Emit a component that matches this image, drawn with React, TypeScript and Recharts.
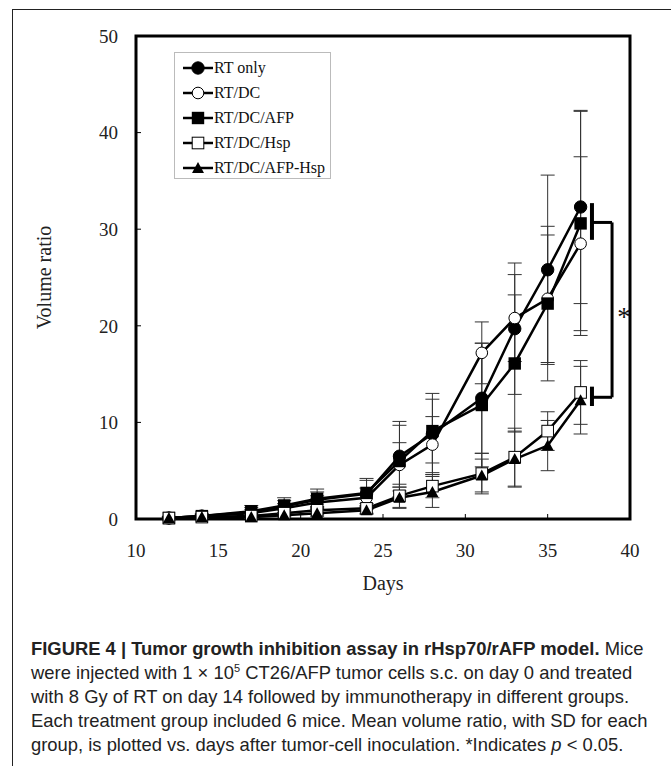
import React from "react"
import {
    LineChart, Line, XAxis, YAxis, ErrorBar, ReferenceArea,
    ReferenceLine, ReferenceDot
} from "recharts"

const days = [12, 14, 17, 19, 21, 24, 26, 28, 31, 33, 35, 37]

const rtOnly = [0.1, 0.3, 0.7, 1.3, 2.0, 2.6, 6.5, 8.8, 12.5, 19.7, 25.8, 32.3]
const rtOnlySd = [0.1, 0.2, 0.5, 0.6, 0.8, 1.6, 3.6, 4.2, 5.7, 6.8, 9.8, 10.0]
const rtDc = [0.1, 0.3, 0.6, 1.1, 1.7, 2.2, 5.6, 7.7, 17.2, 20.8, 22.8, 28.5]
const rtDcSd = [0.1, 0.2, 0.4, 0.5, 0.7, 1.0, 2.3, 2.9, 3.2, 4.5, 6.6, 9.0]
const rtDcAfp = [0.1, 0.3, 0.8, 1.4, 2.1, 2.7, 6.0, 9.1, 11.8, 16.1, 22.3, 30.6]
const rtDcAfpSd = [0.1, 0.2, 0.6, 0.8, 1.0, 1.3, 3.7, 3.3, 6.4, 7.1, 8.0, 11.6]
const rtDcHsp = [0.1, 0.2, 0.3, 0.6, 0.9, 1.1, 2.4, 3.4, 4.7, 6.4, 9.1, 13.1]
const rtDcHspSd = [0.1, 0.1, 0.2, 0.3, 0.4, 0.5, 1.2, 1.2, 2.1, 3.0, 2.0, 3.3]
const rtDcAfpHsp = [0.1, 0.2, 0.2, 0.4, 0.6, 0.9, 2.2, 2.8, 4.5, 6.2, 7.6, 12.3]
const rtDcAfpHspSd = [0.1, 0.1, 0.1, 0.2, 0.3, 0.4, 1.1, 1.6, 1.7, 2.9, 2.6, 3.5]

const xTicks = [10, 15, 20, 25, 30, 35, 40]
const yTicks = [0, 10, 20, 30, 40, 50]

const seriesNames = ["RT only", "RT/DC", "RT/DC/AFP", "RT/DC/Hsp", "RT/DC/AFP-Hsp"]
const seriesMarkers = ["circle", "openCircle", "square", "openSquare", "triangle"]

const data = days.map((d, i) => ({
    day: d,
    s0: rtOnly[i], e0: rtOnlySd[i],
    s1: rtDc[i], e1: rtDcSd[i],
    s2: rtDcAfp[i], e2: rtDcAfpSd[i],
    s3: rtDcHsp[i], e3: rtDcHspSd[i],
    s4: rtDcAfpHsp[i], e4: rtDcAfpHspSd[i],
}))

const SERIF = '"Liberation Serif", "DejaVu Serif", serif'

function Marker({ kind, cx, cy }: { kind: string; cx: number; cy: number }) {
    if (cx == null || cy == null) return null
    switch (kind) {
        case "circle":
            return <circle cx={cx} cy={cy} r={6.2} fill="#000" stroke="#000" />
        case "openCircle":
            return <circle cx={cx} cy={cy} r={5.8} fill="#fff" stroke="#000" strokeWidth={1} />
        case "square":
            return <rect x={cx - 6.2} y={cy - 6.2} width={12.4} height={12.4} fill="#000" />
        case "openSquare":
            return <rect x={cx - 5.8} y={cy - 5.8} width={11.6} height={11.6} fill="#fff" stroke="#000" strokeWidth={1} />
        default:
            return <polygon points={`${cx},${cy - 6} ${cx + 6},${cy + 5} ${cx - 6},${cy + 5}`} fill="#000" />
    }
}

// legend drawn as an overlay so it doesn't steal plot space
function LegendBox() {
    return (
        <div style={{
            position: "absolute", left: 174, top: 52, width: 157, height: 127, boxSizing: "border-box",
            border: "1px solid #bbb", background: "#fff", padding: "2px 0 0 8px",
            fontFamily: SERIF, fontSize: 16, color: "#111", whiteSpace: "nowrap",
        }}>
            {seriesNames.map((n, i) => (
                <div key={n} style={{ display: "flex", alignItems: "center", height: 25 }}>
                    <svg width={30} height={14} style={{ marginRight: 1 }}>
                        <line x1={0} y1={7} x2={30} y2={7} stroke="#000" strokeWidth={2.5} />
                        <Marker kind={seriesMarkers[i]} cx={15} cy={7} />
                    </svg>
                    <span>{n}</span>
                </div>
            ))}
        </div>
    )
}

const tickStyle = { fill: "#222", fontSize: 19, fontFamily: SERIF }

export default function App() {
    return (
        <div style={{ position: "relative", width: 671, height: 766, overflow: "hidden", background: "#fff" }}>
            <style>{`body{margin:0}`}</style>
            <div style={{
                position: "absolute", left: 12, top: 9, width: 720, height: 800,
                borderLeft: "1.5px solid #222", borderTop: "1.5px solid #222",
            }} />
            <div style={{ position: "absolute", left: 0, top: 0 }}>
                <LineChart width={671} height={600} data={data}
                    margin={{ top: 36, right: 41, left: 36, bottom: 6 }}>
                    <XAxis
                        dataKey="day" type="number" domain={[10, 40]} ticks={xTicks}
                        axisLine={false} tickLine={{ stroke: "#000" }} tickSize={-5} tickMargin={30}
                        tick={tickStyle} height={75} allowDataOverflow
                        label={{ value: "Days", position: "insideBottom", offset: 4, style: { fontFamily: SERIF, fontSize: 20, fill: "#222" } }}
                    />
                    <YAxis
                        type="number" domain={[0, 50]} ticks={yTicks}
                        axisLine={false} tickLine={{ stroke: "#000" }} tickSize={-5} tickMargin={23}
                        tick={tickStyle} width={100}
                        label={{ value: "Volume ratio", angle: -90, position: "insideLeft", offset: 8, style: { fontFamily: SERIF, fontSize: 20, fill: "#222", textAnchor: "middle" } }}
                    />
                    <ReferenceArea x1={10} x2={40} y1={0} y2={50} fill="none" stroke="#000" strokeWidth={3} />
                    {seriesNames.map((n, i) => (
                        <Line
                            key={n} name={n} dataKey={`s${i}`} type="linear"
                            stroke="#000" strokeWidth={2.5} isAnimationActive={false}
                            dot={(p: any) => <Marker key={`${i}-${p.index}`} kind={seriesMarkers[i]} cx={p.cx} cy={p.cy} />}
                            activeDot={false}
                        >
                            <ErrorBar dataKey={`e${i}`} direction="y" width={7} stroke="#333" strokeWidth={1} isAnimationActive={false} />
                        </Line>
                    ))}
                    <ReferenceLine segment={[{ x: 37.69, y: 32.7 }, { x: 37.69, y: 28.9 }]} stroke="#000" strokeWidth={4} />
                    <ReferenceLine segment={[{ x: 37.69, y: 30.7 }, { x: 38.91, y: 30.7 }]} stroke="#000" strokeWidth={3} />
                    <ReferenceLine segment={[{ x: 38.91, y: 30.7 }, { x: 38.91, y: 12.6 }]} stroke="#000" strokeWidth={3} />
                    <ReferenceLine segment={[{ x: 37.69, y: 12.6 }, { x: 38.91, y: 12.6 }]} stroke="#000" strokeWidth={3} />
                    <ReferenceLine segment={[{ x: 37.69, y: 13.7 }, { x: 37.69, y: 11.7 }]} stroke="#000" strokeWidth={4} />
                    <ReferenceDot x={39.64} y={21.0} r={0} fill="none" stroke="none"
                        label={{ value: "*", position: "center", style: { fontFamily: SERIF, fontSize: 27, fill: "#111" } }} />
                </LineChart>
                <LegendBox />
            </div>
            <div style={{
                position: "absolute", left: 31, top: 637, width: 640,
                fontFamily: '"Liberation Sans", "Arial", sans-serif',
                fontSize: 18.4, lineHeight: "24px", color: "#222", whiteSpace: "nowrap",
            }}>
                <div><b>FIGURE 4 | Tumor growth inhibition assay in rHsp70/rAFP model.</b> Mice</div>
                <div>were injected with 1 × 10<sup style={{ fontSize: 11, lineHeight: 0 }}>5</sup> CT26/AFP tumor cells s.c. on day 0 and treated</div>
                <div>with 8 Gy of RT on day 14 followed by immunotherapy in different groups.</div>
                <div>Each treatment group included 6 mice. Mean volume ratio, with SD for each</div>
                <div>group, is plotted vs. days after tumor-cell inoculation. *Indicates <i>p</i> &lt; 0.05.</div>
            </div>
        </div>
    )
}
